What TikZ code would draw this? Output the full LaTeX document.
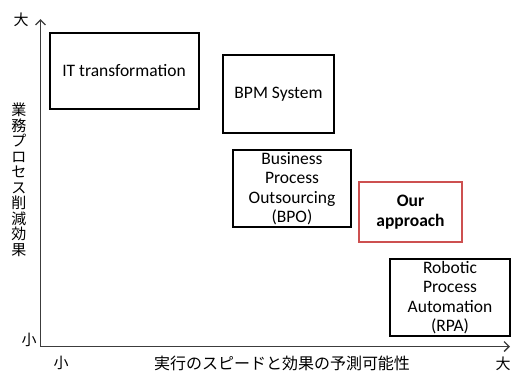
\documentclass[tikz,border=0pt]{standalone}
\usepackage{fontspec}
\setmainfont{Carlito}
\newfontfamily\jpfont{Noto Sans CJK JP}
\usetikzlibrary{arrows.meta}
\definecolor{boxred}{RGB}{205,80,80}
\definecolor{axisgray}{RGB}{60,60,60}
\begin{document}
\begin{tikzpicture}[x=1pt,y=-1pt,
  boxstyle/.style={draw=black,line width=2pt,align=center,font=\fontsize{17.5}{19.5}\selectfont,inner sep=0pt},
  redbox/.style={boxstyle,draw=boxred},
  axisline/.style={draw=axisgray,line width=1.4pt,-{Straight Barb[length=5pt,width=10pt,line width=1.4pt]}},
  jp/.style={font=\jpfont\fontsize{15}{15.5}\selectfont,inner sep=0pt}]
\useasboundingbox (0,0) rectangle (512,378);
\coordinate (origin) at (40.5,346.5);
\coordinate (ytop) at (40.5,19);
\coordinate (xend) at (510,346.5);
\draw[axisline] (origin) -- (ytop);
\draw[axisline] (origin) -- (xend);
\node[boxstyle,minimum width=149pt,minimum height=76pt] (it) at (124,71) {IT transformation};
\node[boxstyle,minimum width=111pt,minimum height=78pt] (bpm) at (278.5,94) {BPM System};
\node[boxstyle,minimum width=118pt,minimum height=77pt] (bpo) at (292,188.5) {Business\\Process\\Outsourcing\\(BPO)};
\node[redbox,minimum width=103pt,minimum height=60pt,font=\bfseries\fontsize{17.5}{19.5}\selectfont] (our) at (410.5,212) {Our\\approach};
\node[boxstyle,minimum width=120pt,minimum height=77pt] (rpa) at (450,297.5) {Robotic\\Process\\Automation\\(RPA)};
\node[jp] (ybig) at (21,20) {大};
\node[jp] (ysmall) at (29,340) {小};
\node[jp] (xsmall) at (61,363) {小};
\node[jp] (xbig) at (503,364) {大};
\node[jp,font=\jpfont\fontsize{16}{19}\selectfont] (xlabel) at (282,363) {実行のスピードと効果の予測可能性};
\node[jp,align=center] (ylabel) at (19,180) {業\\務\\プ\\ロ\\セ\\ス\\削\\減\\効\\果};
\end{tikzpicture}
\end{document}
